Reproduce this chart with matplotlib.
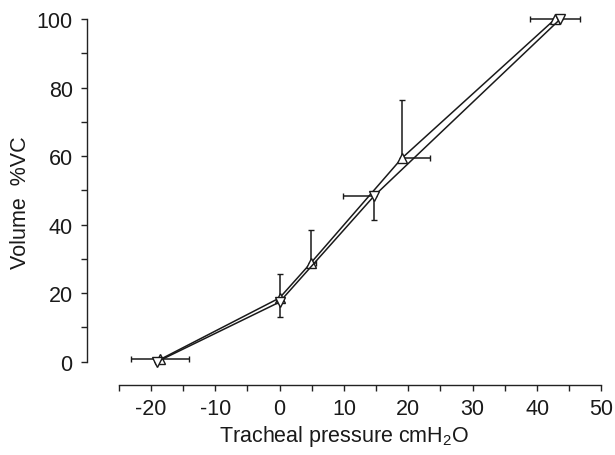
import numpy as np
import matplotlib
matplotlib.use('Agg')
import matplotlib.pyplot as plt

plt.rcParams['font.family'] = ['Liberation Sans', 'DejaVu Sans']
plt.rcParams['axes.unicode_minus'] = False
plt.rcParams['mathtext.fontset'] = 'custom'
plt.rcParams['mathtext.rm'] = 'Liberation Sans'

# inflation limb (up triangles)
up_x = [-18.5, 0, 4.9, 19.0, 42.8]
up_y = [0.7, 18.6, 28.9, 59.4, 100]
up_yerr_hi = [0, 7.1, 9.4, 17.0, 0]
up_xerr_lo = [4.5, 0, 0, 0, 3.9]
up_xerr_hi = [4.5, 0, 0.8, 4.4, 0]

# deflation limb (down triangles)
dn_x = [-19.0, 0, 14.7, 43.6]
dn_y = [0, 17.4, 48.4, 100]
dn_yerr_lo = [0, 4.4, 7.0, 0]
dn_xerr_lo = [0, 0, 4.8, 0]
dn_xerr_hi = [0, 0, 0, 3.1]

x_ticks = [-20, -10, 0, 10, 20, 30, 40, 50]
y_ticks = [0, 20, 40, 60, 80, 100]

fig = plt.figure(figsize=(6.15, 4.56), dpi=100)
ax = fig.add_axes([0.142, 0.1535, 0.836, 0.8025])

zeros_up = [0] * len(up_x)
zeros_dn = [0] * len(dn_x)

ax.errorbar(up_x, up_y, yerr=[zeros_up, up_yerr_hi], xerr=[up_xerr_lo, up_xerr_hi],
            fmt='none', ecolor='#1a1a1a', elinewidth=1.1, capsize=2.2, clip_on=False, zorder=2)
ax.errorbar(dn_x, dn_y, yerr=[dn_yerr_lo, zeros_dn], xerr=[dn_xerr_lo, dn_xerr_hi],
            fmt='none', ecolor='#1a1a1a', elinewidth=1.1, capsize=2.2, clip_on=False, zorder=2)

ax.plot(up_x, up_y, color='#1a1a1a', lw=1.1, marker='^', ms=7.5, mfc='white',
        mec='#1a1a1a', mew=1.0, clip_on=False, zorder=3)
ax.plot(dn_x, dn_y, color='#1a1a1a', lw=1.1, marker='v', ms=7.5, mfc='white',
        mec='#1a1a1a', mew=1.0, clip_on=False, zorder=3)

ax.set_xlim(-29.85, 50)
ax.set_ylim(-6.8, 100)

for s in ['top', 'right']:
    ax.spines[s].set_visible(False)
ax.spines['left'].set_bounds(0, 100)
ax.spines['bottom'].set_bounds(-25, 50)
for s in ['left', 'bottom']:
    ax.spines[s].set_linewidth(1.0)
    ax.spines[s].set_color('#222222')

ax.set_xticks(x_ticks)
ax.set_xticks(np.arange(-25, 50, 10), minor=True)
ax.set_yticks(y_ticks)
ax.set_yticks(np.arange(10, 100, 20), minor=True)
ax.tick_params(which='both', direction='out', length=4.5, width=1.0, color='#222222',
               labelsize=15.5, labelcolor='#1a1a1a')
ax.tick_params(axis='x', pad=5)
ax.tick_params(axis='y', pad=6)

ax.set_xlabel('Tracheal pressure cmH$_2$O', fontsize=15.5, labelpad=3, color='#1a1a1a')
ax.set_ylabel('Volume  %VC', fontsize=15.5, labelpad=4, color='#1a1a1a')

fig.savefig('out.png', dpi=100)
